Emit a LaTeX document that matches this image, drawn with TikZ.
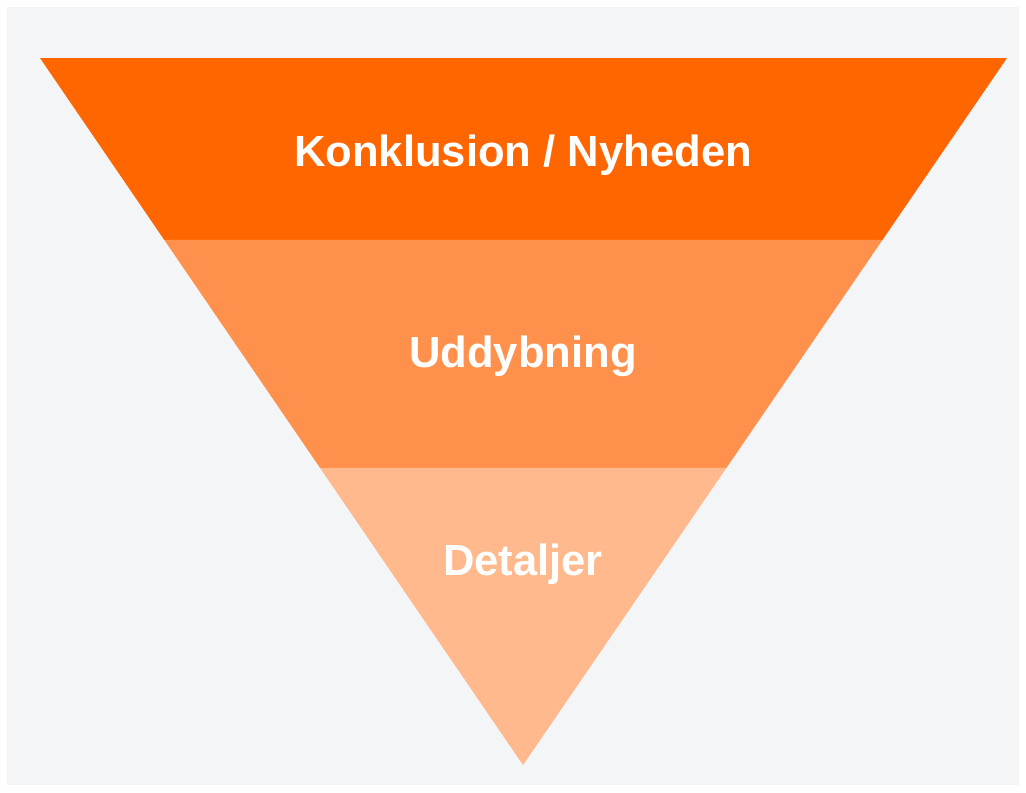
\documentclass[tikz,border=0pt]{standalone}
\usepackage{fontspec}
\setmainfont{Liberation Sans}
\usetikzlibrary{calc}
\definecolor{bgpage}{HTML}{F4F5F7}
\definecolor{bandtop}{HTML}{FF6600}
\definecolor{bandmid}{HTML}{FF914D}
\definecolor{bandlow}{HTML}{FFB98C}

\begin{document}
\begin{tikzpicture}[x=0.025cm,y=-0.025cm]
		\useasboundingbox (0,0) rectangle (1026,792);
		\fill[white] (0,0) rectangle (1026,792);
		\fill[bgpage] (7,7) rectangle (1019,785);

		\coordinate (tl) at (40,58);
		\coordinate (tr) at (1007,58);
		\coordinate (apex) at (523,765);
		\coordinate (l1) at ($(tl)!0.2574!(apex)$);
		\coordinate (r1) at ($(tr)!0.2574!(apex)$);
		\coordinate (l2) at ($(tl)!0.5799!(apex)$);
		\coordinate (r2) at ($(tr)!0.5799!(apex)$);

		\fill[bandtop] (tl) -- (tr) -- (r1) -- (l1) -- cycle;
		\fill[bandmid] (l1) -- (r1) -- (r2) -- (l2) -- cycle;
		\fill[bandlow] (l2) -- (r2) -- (apex) -- cycle;

		\begin{scope}[every node/.style={text=white,font=\fontsize{31}{36}\selectfont\bfseries}]
		    \node (konklusion) at (523,155) {Konklusion / Nyheden};
		    \node (uddybning) at (523,356) {Uddybning};
		    \node (detaljer) at (523,564) {Detaljer};
		\end{scope}
		\end{tikzpicture}
\end{document}
